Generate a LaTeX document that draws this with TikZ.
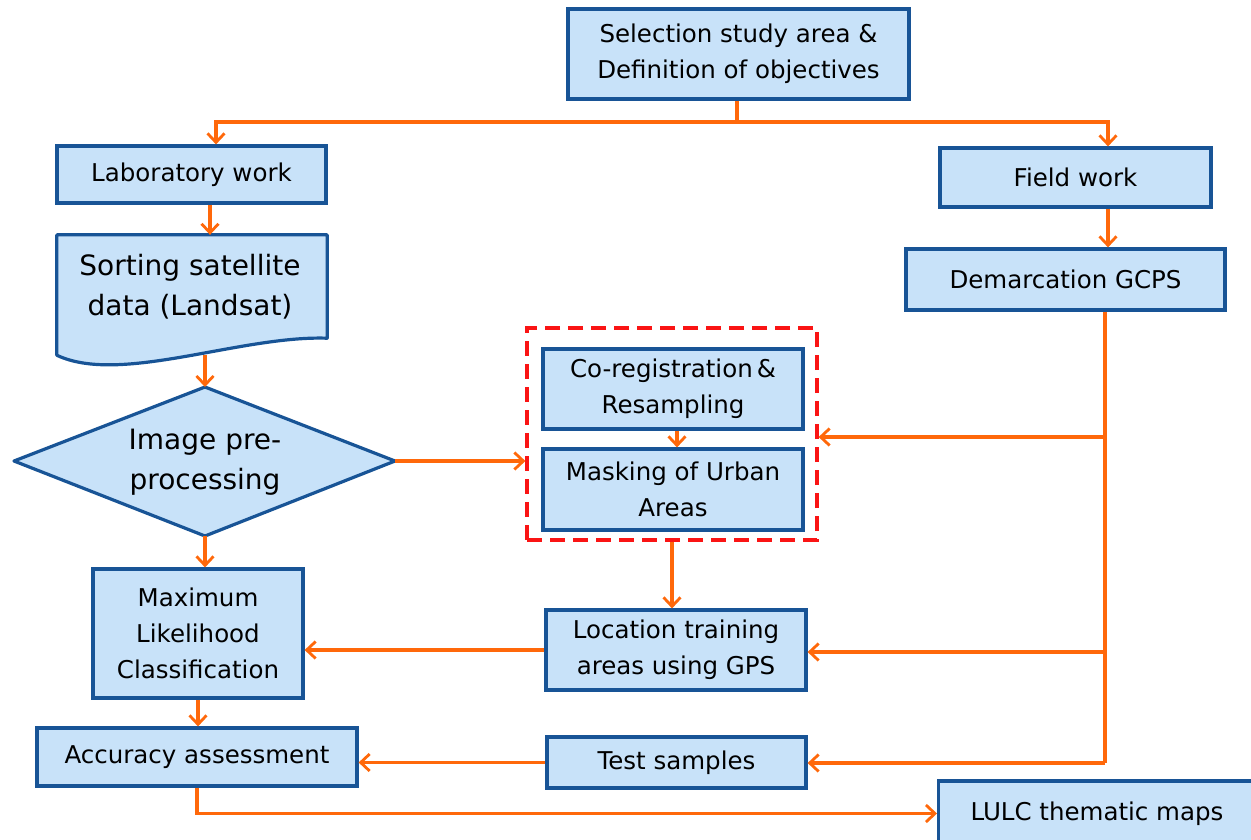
\documentclass[tikz,border=0pt]{standalone}
\usepackage{fontspec}
\setmainfont{DejaVu Sans}
\usetikzlibrary{arrows.meta,calc}
\definecolor{boxfill}{RGB}{200,226,249}
\definecolor{boxline}{RGB}{24,84,150}
\definecolor{conn}{RGB}{255,104,10}
\definecolor{dashred}{RGB}{250,20,20}
\begin{document}
\begin{tikzpicture}[x=1pt,y=-1pt,
  box/.style={draw=boxline,fill=boxfill,line width=3.2pt,align=center,inner sep=0pt,
    font=\fontsize{24.5}{36}\selectfont},
  bigtxt/.style={align=center,inner sep=0pt,font=\fontsize{28}{40}\selectfont},
  link/.style={draw=conn,line width=3.2pt},
  arr/.style={link,-{Straight Barb[length=9pt,width=17pt,line width=2.8pt]}},
  grpbox/.style={draw=dashred,line width=3.2pt,dash pattern=on 15pt off 8pt,inner sep=0pt}]
\useasboundingbox (0,0) rectangle (1251,839);
% nodes
\node[box,minimum width=341,minimum height=90] (top) at (738.5,54) {Selection study area \&\\Definition of objectives};
\node[box,minimum width=269,minimum height=57] (lab) at (191.5,174.5) {Laboratory work};
\node[box,minimum width=271,minimum height=59] (field) at (1075.5,177.5) {Field work};
\node[box,minimum width=319,minimum height=61] (dem) at (1065.5,279.5) {Demarcation GCPS};
% document shape
\node[minimum width=270,minimum height=120,inner sep=0pt] (sort) at (192,295) {};
\draw[draw=boxline,fill=boxfill,line width=3.2pt,line join=round]
  (sort.north west) -- (sort.north east) -- ($(sort.south east)+(0,-17)$)
  .. controls ($(sort.south east)+(-87,-20)$) and ($(sort.south west)+(63,30)$) .. (sort.south west) -- cycle;
\node[bigtxt] (sorttxt) at (190,287) {Sorting satellite\\data (Landsat)};
% diamond
\coordinate (dL) at (14,461);
\coordinate (dR) at (395,461);
\coordinate (dT) at (205,387);
\coordinate (dB) at (205,536);
\draw[draw=boxline,fill=boxfill,line width=3.2pt,line join=round] (dL) -- (dT) -- (dR) -- (dB) -- cycle;
\node[bigtxt] (dia) at (205,462) {Image pre-\\processing};
% dashed group
\node[grpbox,minimum width=290,minimum height=212] (grp) at (672,434) {};
\node[box,minimum width=260,minimum height=80] (coreg) at (673,389) {\raisebox{-3pt}{Co-registration\,\&}\\\raisebox{-3pt}{Resampling}};
\node[box,minimum width=260,minimum height=81] (mask) at (673,489.5) {Masking of Urban\\Areas};
\node[box,minimum width=210,minimum height=129] (ml) at (198,633.5) {Maximum\\Likelihood\\Classification};
\node[box,minimum width=260,minimum height=80] (loc) at (676,650) {\raisebox{-3pt}{Location training}\\\raisebox{-3pt}{areas using GPS}};
\node[box,minimum width=320,minimum height=58] (acc) at (197,757) {Accuracy assessment};
\node[box,minimum width=259,minimum height=51] (test) at (676.5,762.5) {Test samples};
\node[box,minimum width=325,minimum height=65,anchor=west] (lulc) at (937,813.5) {};
\node[font=\fontsize{24.5}{36}\selectfont,inner sep=0pt] (lulctxt) at (1097,814) {LULC thematic maps};
% connectors
\coordinate (J) at (737,122);
\draw[link] (top.south -| J) -- (J);
\draw[arr] (J) -| ([xshift=24.5pt]lab.north);
\draw[arr] (J) -| ([xshift=32.5pt]field.north);
\draw[arr] ([xshift=18.5pt]lab.south) -- ([xshift=18.5pt]lab.south |- sort.north);
\draw[arr] ([xshift=32.5pt]field.south) -- ([xshift=32.5pt]field.south |- dem.north);
\draw[arr] (sort.south -| dT) -- (dT);
\draw[arr] (dB) -- (dB |- ml.north);
\draw[arr] (ml.south) -- (ml.south |- acc.north);
\draw[arr] (acc.south) |- (lulc.west);
\draw[arr] (dR) -- (dR -| grp.west);
\draw[arr] ([xshift=4pt]coreg.south) -- ([xshift=4pt]coreg.south |- mask.north);
\draw[arr] (grp.south) -- (grp.south |- loc.north);
\draw[arr] (loc.west) -- (loc.west -| ml.east);
\draw[arr] (test.west) -- (test.west -| acc.east);
\coordinate (b1) at (1105,437);
\coordinate (b2) at (1105,652);
\coordinate (b3) at (1105,763);
\draw[link] ([xshift=39.5pt]dem.south) -- (b3);
\draw[arr] (b1) -- (b1 -| grp.east);
\draw[arr] (b2) -- (b2 -| loc.east);
\draw[arr] (b3) -- (b3 -| test.east);
\end{tikzpicture}
\end{document}
